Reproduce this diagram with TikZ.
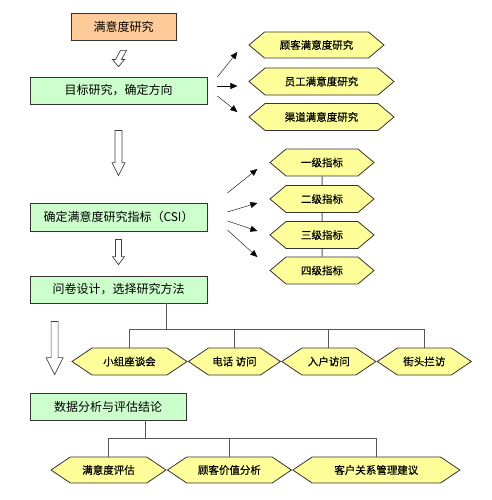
\documentclass[tikz,border=0pt]{standalone}
\usepackage{fontspec}
\setmainfont{Noto Sans CJK SC}
\newfontfamily\hexfont[BoldFont={Noto Sans CJK SC}, BoldFeatures={FakeBold=0.5}]{Noto Sans CJK SC}
\usetikzlibrary{arrows.meta,positioning,calc,shapes.symbols}
\definecolor{rootorange}{RGB}{255,204,153}
\definecolor{stepgreen}{RGB}{204,255,204}
\definecolor{hexyellow}{RGB}{255,255,153}
\tikzset{%
  >={Triangle[width=6pt,length=7pt]},
  % Specifications for style of nodes:
         base/.style = {rectangle, draw=black!80, line width=0.8pt,
                        minimum height=27pt, inner sep=0pt,
                        text centered, font=\fontsize{12}{14}\selectfont},
     rootbox/.style = {base, minimum width=105pt, fill=rootorange},
     stepbox/.style = {base, minimum width=177pt, fill=stepgreen},
     hexitem/.style = {signal, signal to=east and west, signal pointer angle=80,
                       draw=black!80, line width=0.8pt, fill=hexyellow,
                       minimum height=27pt, inner sep=0pt,
                       font=\hexfont\bfseries\fontsize{10.5}{12}\selectfont},
     hexwide/.style = {hexitem, signal pointer angle=68},
      hollow/.style = {draw=black!75, line width=0.7pt, fill=white},
        tree/.style = {draw=black!65, line width=1pt},
}
% hollow block arrow: top, bottom, shaft half width, head half width, head length
\newcommand{\hollowarrow}[5]{%
  \draw[hollow] ($(#1)+(-#3,0)$) -- ($(#2)+(-#3,-#5)$) -- ($(#2)+(-#4,-#5)$)
    -- (#2) -- ($(#2)+(#4,-#5)$) -- ($(#2)+(#3,-#5)$) -- ($(#1)+(#3,0)$) -- cycle;}

\begin{document}
\begin{tikzpicture}[x=1pt, y=-1pt]
\useasboundingbox (0,0) rectangle (491,500);

\node (Root)   [rootbox]                    at (123.5,26.5) {满意度研究};
\node (Goal)   [stepbox]                    at (118.5,90.5) {目标研究，确定方向};
\node (CSI)    [stepbox, minimum height=28pt] at (118.5,217) {确定满意度研究指标（CSI）};
\node (Survey) [stepbox]                    at (118.5,289.5) {问卷设计，选择研究方法};
\node (Data)   [stepbox, minimum width=156pt] at (108,406.5) {数据分析与评估结论};

% research targets
\node (Cust)  [hexitem, minimum width=135pt, minimum height=26pt] at (316.5,45) {顾客满意度研究};
\node (Staff) [hexitem, minimum width=145pt] at (321.5,81.5) {员工满意度研究};
\node (Chan)  [hexitem, minimum width=145pt] at (321.5,117) {渠道满意度研究};

% indicator levels
\node (L1) [hexitem, minimum width=104pt] at (322,162.5) {一级指标};
\node (L2) [hexitem, minimum width=104pt] at (322,199) {二级指标};
\node (L3) [hexitem, minimum width=104pt] at (322,235) {三级指标};
\node (L4) [hexitem, minimum width=104pt] at (322,270.5) {四级指标};

% research methods
\node (Group)  [hexwide, minimum width=115pt] at (129.5,361.5) {小组座谈会};
\node (Phone)  [hexwide, minimum width=92pt, right=0pt of Group]  {电话 访问};
\node (Home)   [hexwide, minimum width=94pt, right=0pt of Phone]  {入户访问};
\node (Street) [hexwide, minimum width=94pt, right=0pt of Home]   {街头拦访};

% conclusions
\node (Eval)  [hexwide, minimum width=115pt, minimum height=26pt] at (108.5,470) {满意度评估};
\node (Value) [hexwide, minimum width=124pt, minimum height=26pt, right=0pt of Eval]  {顾客价值分析};
\node (CRM)   [hexwide, minimum width=167pt, minimum height=26pt, right=0pt of Value] {客户关系管理建议};

% hollow arrows between the steps
\coordinate (A1top) at ([yshift=-10pt]Root.south);
\coordinate (A1bot) at ([yshift=10pt]Goal.north);
\coordinate (A2top) at ([yshift=-26pt]Goal.south);
\coordinate (A2bot) at ([yshift=27pt]CSI.north);
\coordinate (A3top) at ([yshift=-8pt]CSI.south);
\coordinate (A3bot) at ([yshift=11pt]Survey.north);
\coordinate (A4top) at ([xshift=25pt,yshift=-18pt]Survey.south west);
\coordinate (A4bot) at ([xshift=25pt,yshift=18pt]Data.north west);
\hollowarrow{A1top}{A1bot}{3}{6}{7}
\hollowarrow{A2top}{A2bot}{3.5}{6.5}{13}
\hollowarrow{A3top}{A3bot}{3}{6}{8}
\hollowarrow{A4top}{A4bot}{3.5}{8.5}{17}

\draw[->] ([xshift=10pt,yshift=13.5pt]Goal.east) -- ([xshift=-11pt,yshift=-7pt]Cust.west);
\draw[->] ([xshift=10pt,yshift=4.5pt]Goal.east)  -- ([xshift=-11pt,yshift=-4.5pt]Staff.west);
\draw[->] ([xshift=10pt,yshift=-5.5pt]Goal.east) -- ([xshift=-11pt,yshift=5pt]Chan.west);

\draw[->] ([xshift=20pt,yshift=24pt]CSI.east)  -- ([xshift=-12pt,yshift=-6.5pt]L1.west);
\draw[->] ([xshift=20pt,yshift=5pt]CSI.east)   -- ([xshift=-12pt,yshift=-4pt]L2.west);
\draw[->] ([xshift=20pt,yshift=-4pt]CSI.east)  -- ([xshift=-12pt,yshift=4pt]L3.west);
\draw[->] ([xshift=20pt,yshift=-13pt]CSI.east) -- ([xshift=-12pt,yshift=13.5pt]L4.west);

\draw[tree] (L1) -- (L2);
\draw[tree] (L2) -- (L3);
\draw[tree] (L3) -- (L4);

\coordinate (SurveyStem) at ([xshift=47.5pt]Survey.south);
\coordinate (SurveyBus)  at ([yshift=-26pt]SurveyStem);
\draw[tree] (SurveyStem) -- (SurveyBus);
\draw[tree] (Group.north) |- (SurveyBus) -| (Street.north);
\draw[tree] (Phone.north) -- (Phone.north |- SurveyBus);
\draw[tree] (Home.north) -- (Home.north |- SurveyBus);

\coordinate (DataStem) at ([xshift=37pt]Data.south);
\coordinate (DataBus)  at ([yshift=-18pt]DataStem);
\draw[tree] (DataStem) -- (DataBus);
\draw[tree] (Eval.north) |- (DataBus) -| (CRM.north);
\draw[tree] (Value.north) -- (Value.north |- DataBus);
\end{tikzpicture}
\end{document}
